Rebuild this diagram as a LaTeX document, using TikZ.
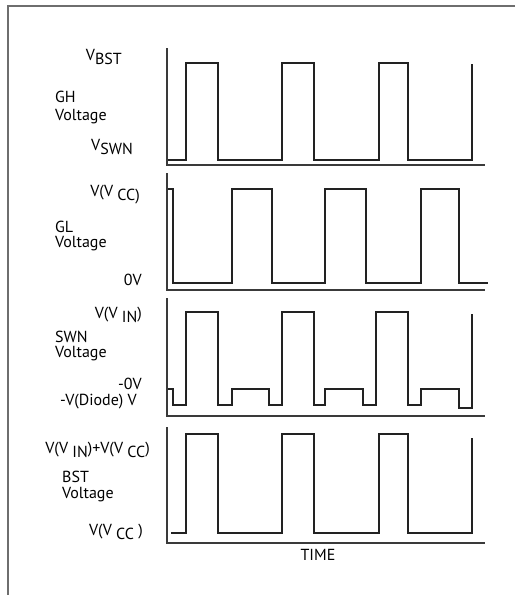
\documentclass[tikz,border=0pt]{standalone}
\usepackage{fontspec}
\setmainfont{PT Sans}
\usepackage{tikz}
\usetikzlibrary{positioning}
\definecolor{framegray}{HTML}{6E6E6E}
\definecolor{traceblack}{HTML}{222222}
\definecolor{axisgray}{HTML}{3A3A3A}
\newcommand{\lowsub}[1]{\raisebox{-4.5pt}{#1}}

\begin{document}
\begin{tikzpicture}[x=1pt, y=-1pt,
  wave/.style={draw=traceblack, line width=1.2pt},
  axisline/.style={draw=axisgray, line width=1.2pt},
  outerframe/.style={draw=framegray, line width=1.8pt},
  vlabel/.style={font=\fontsize{16}{18}\selectfont, inner sep=0pt, anchor=base east},
  sigtitle/.style={font=\fontsize{16}{18}\selectfont, inner sep=0pt, anchor=base west},
  tlabel/.style={font=\fontsize{16}{18}\selectfont, inner sep=0pt, anchor=base},
]
  \useasboundingbox (0,0) rectangle (515,595);

  % Outer frame (top and left edges)
  \draw[outerframe] (515,6) -- (8,6) -- (8,595);

  % GH panel
  \draw[axisline] (167,48) -- (167,165) -- (485,165);
  \draw[wave] (168,160) -- (186,160) -- (186,63) -- (218,63) -- (218,160)
    -- (282,160) -- (282,63) -- (314,63) -- (314,160) -- (379,160)
    -- (379,63) -- (408,63) -- (408,160) -- (472,160) -- (472,64);
  \node[vlabel] (vbst) at (122,60) {V\lowsub{BST}};
  \node[sigtitle] (gh) at (55,102) {GH};
  \node[sigtitle] (ghvolt) at (55,120) {Voltage};
  \node[vlabel] (vswn) at (133,150) {V\lowsub{SWN}};

  % GL panel
  \draw[axisline] (167,173) -- (167,290) -- (485,290);
  \draw[wave] (168,189) -- (173,189) -- (173,283) -- (232,283) -- (232,189)
    -- (272,189) -- (272,283) -- (325,283) -- (325,189) -- (366,189)
    -- (366,283) -- (421,283) -- (421,189) -- (459,189) -- (459,283) -- (488,283);
  \node[vlabel] (vcc) at (140,196) {V(V \lowsub{CC)}};
  \node[sigtitle] (gl) at (55,232) {GL};
  \node[sigtitle] (glvolt) at (55,247) {Voltage};
  \node[vlabel] (zerov) at (142,285) {0V};

  % SWN panel
  \draw[axisline] (167,298) -- (167,416) -- (485,416);
  \draw[wave] (168,389) -- (173,389) -- (173,405) -- (186,405) -- (186,312)
    -- (218,312) -- (218,405) -- (232,405) -- (232,389) -- (269,389)
    -- (269,405) -- (282,405) -- (282,312) -- (314,312) -- (314,405)
    -- (325,405) -- (325,389) -- (363,389) -- (363,405) -- (376,405)
    -- (376,312) -- (408,312) -- (408,405) -- (421,405) -- (421,389)
    -- (459,389) -- (459,408) -- (472,408) -- (472,314);
  \node[vlabel] (vin) at (142,318) {V(V \lowsub{IN})};
  \node[sigtitle] (swn) at (55,342) {SWN};
  \node[sigtitle] (swnvolt) at (55,357) {Voltage};
  \node[vlabel] (negzero) at (142,389) {-0V};
  \node[vlabel] (diode) at (137,405) {-V(Diode) V};

  % BST panel
  \draw[axisline] (167,427) -- (167,543) -- (485,543);
  \draw[wave] (171,533) -- (186,533) -- (186,434) -- (218,434) -- (218,533)
    -- (282,533) -- (282,434) -- (314,434) -- (314,533) -- (379,533)
    -- (379,434) -- (408,434) -- (408,533) -- (472,533) -- (472,438);
  \node[vlabel] (vsum) at (150,453) {V(V \lowsub{IN})+V(V \lowsub{CC})};
  \node[sigtitle] (bst) at (62,482) {BST};
  \node[sigtitle] (bstvolt) at (62,498) {Voltage};
  \node[vlabel] (vccbst) at (143,535) {V(V \lowsub{CC} )};

  % Time axis label
  \node[tlabel] (time) at (318,560) {TIME};
\end{tikzpicture}
\end{document}
